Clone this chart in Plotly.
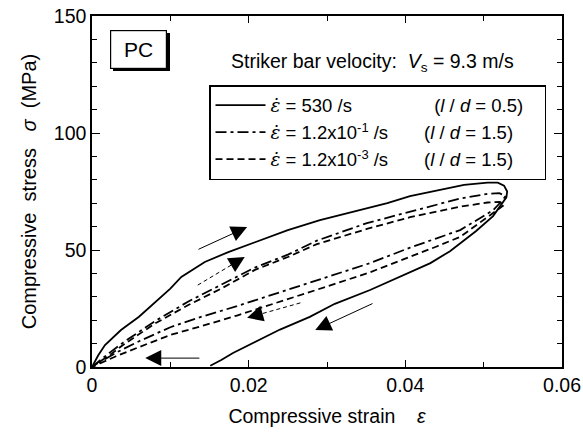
import plotly.graph_objects as go

# ---------------- data ----------------
# 530 /s (l/d = 0.5) : loading then unloading
strain_530 = [0, 0.0008, 0.00166, 0.0037, 0.006, 0.008, 0.010, 0.0114, 0.0144, 0.0174,
              0.0206, 0.025, 0.0291, 0.0335, 0.0377, 0.0406, 0.044, 0.0475, 0.0505,
              0.0518, 0.0526, 0.0530, 0.0529, 0.0524, 0.0512, 0.049, 0.0457, 0.0432,
              0.040, 0.0355, 0.031, 0.0278, 0.024, 0.0206, 0.018, 0.0165, 0.0151]
stress_530 = [0, 5, 9.4, 15.8, 21.5, 27.4, 33.5, 38.5, 44.9, 49.1,
              53, 58.5, 62.8, 66.5, 70, 73, 75.5, 77.8, 78.8,
              78.8, 77.5, 75, 72.5, 70, 64.5, 58, 49.5, 44.4,
              39.5, 32.9, 27, 21.4, 16, 10.3, 6, 3, 0.5]

# 1.2x10^-1 /s (l/d = 1.5)
strain_1e1 = [0, 0.002, 0.004, 0.008, 0.0123, 0.0165, 0.0208, 0.025, 0.0287, 0.0351,
              0.0406, 0.047, 0.0505, 0.052, 0.0528, 0.0522, 0.0512, 0.047, 0.044,
              0.0406, 0.0355, 0.031, 0.0269, 0.0227, 0.0185, 0.014, 0.010, 0.006, 0.003, 0]
stress_1e1 = [0, 5.5, 10.5, 19.5, 28, 35, 42.5, 48, 54, 61.5,
              66.5, 72, 74, 74.3, 73, 70.5, 67, 58.5, 55,
              51, 44.4, 39.5, 35, 30.5, 26, 21.5, 17, 11, 6, 0]

# 1.2x10^-3 /s (l/d = 1.5)
strain_1e3 = [0, 0.002, 0.004, 0.008, 0.0123, 0.0165, 0.0208, 0.025, 0.0287, 0.0351,
              0.0406, 0.047, 0.0505, 0.052, 0.0526, 0.0525, 0.0512, 0.047, 0.044,
              0.0406, 0.0355, 0.031, 0.0269, 0.0227, 0.0185, 0.014, 0.010, 0.006, 0.003, 0]
stress_1e3 = [0, 4.5, 9.5, 18.5, 26.5, 33.5, 41.5, 47, 52.5, 59,
              64, 68.5, 70.3, 70.5, 69.5, 69, 65.8, 55.6, 51.5,
              47, 40.5, 35.5, 31, 26.5, 22, 17.5, 13.7, 8.5, 4.5, 0]

# direction arrows: tail -> head (strain, stress)
arrow_tail_x = [0.0134, 0.0135, 0.0266, 0.0360, 0.0139]
arrow_tail_y = [50.0, 35.0, 27.4, 27.4, 3.8]
arrow_head_x = [0.0198, 0.0195, 0.0198, 0.0285, 0.0068]
arrow_head_y = [59.8, 47.0, 21.0, 15.8, 3.8]
arrow_dashed = [False, True, True, False, False]

EPS = '<span style="font-family:DejaVu Serif"><i>ε\u0307</i></span>'
legend_names = [
    EPS + " = 530 /s" + "\u00a0" * 16 + "(<i>l</i> / <i>d</i> = 0.5)" + "\u00a0" * 3,
    EPS + " = 1.2x10<sup>-1</sup> /s" + "\u00a0" * 7 + "(<i>l</i> / <i>d</i> = 1.5)" + "\u00a0" * 3,
    EPS + " = 1.2x10<sup>-3</sup> /s" + "\u00a0" * 7 + "(<i>l</i> / <i>d</i> = 1.5)" + "\u00a0" * 3,
]

# ---------------- figure ----------------
W, H = 583, 432
L, R, T, B = 92, 21, 16, 65
PW, PH = W - L - R, H - T - B


def px(xp):
    return (xp - L) / PW


def py(yp):
    return (H - B - yp) / PH


FONT = "Liberation Sans, Arial, Helvetica, sans-serif"
fig = go.Figure()

fig.add_trace(go.Scatter(x=strain_530, y=stress_530, mode="lines", name=legend_names[0],
                         line=dict(color="black", width=1.8)))
fig.add_trace(go.Scatter(x=strain_1e1, y=stress_1e1, mode="lines", name=legend_names[1],
                         line=dict(color="black", width=1.8, dash="11px,4px,3px,4px")))
fig.add_trace(go.Scatter(x=strain_1e3, y=stress_1e3, mode="lines", name=legend_names[2],
                         line=dict(color="black", width=1.8, dash="7px,4px")))

annotations = []
for tx, ty, hx, hy, dsh in zip(arrow_tail_x, arrow_tail_y, arrow_head_x, arrow_head_y, arrow_dashed):
    if dsh:
        fig.add_trace(go.Scatter(x=[tx, hx], y=[ty, hy], mode="lines", showlegend=False,
                                 hoverinfo="skip",
                                 line=dict(color="black", width=1, dash="4px,3px")))
        sx, sy = hx - 0.3 * (hx - tx), hy - 0.3 * (hy - ty)
    else:
        sx, sy = tx, ty
    annotations.append(dict(x=hx, y=hy, ax=sx, ay=sy, xref="x", yref="y", axref="x", ayref="y",
                            text="", showarrow=True, arrowhead=2, arrowsize=3.2, arrowwidth=1,
                            arrowcolor="black"))

annotations.append(dict(x=px(138.5), y=py(49), xref="paper", yref="paper", text="PC",
                        showarrow=False, font=dict(family=FONT, size=21, color="black"),
                        bgcolor="white", bordercolor="black", borderwidth=1.2,
                        width=53, height=35, xanchor="center", yanchor="middle"))
annotations.append(dict(x=px(372), y=py(62), xref="paper", yref="paper",
                        text="Striker bar velocity:\u00a0 <i>V</i><sub>s</sub> = 9.3 m/s",
                        showarrow=False, font=dict(family=FONT, size=19.5, color="black"),
                        xanchor="center", yanchor="middle"))

shapes = [dict(type="rect", xref="paper", yref="paper", x0=px(113), x1=px(170),
               y0=py(71), y1=py(33), fillcolor="black", line=dict(width=0), layer="above")]

fig.update_layout(
    width=W, height=H, margin=dict(l=L, r=R, t=T, b=B, autoexpand=False),
    paper_bgcolor="white", plot_bgcolor="white",
    font=dict(family=FONT, size=19, color="black"),
    showlegend=True,
    legend=dict(x=px(209), y=py(85), xanchor="left", yanchor="top",
                bordercolor="black", borderwidth=1.5, bgcolor="white",
                font=dict(family=FONT, size=18.5, color="black"),
                tracegroupgap=0, itemwidth=50),
    annotations=annotations, shapes=shapes,
    xaxis=dict(range=[0, 0.06], dtick=0.02, tick0=0, ticks="inside", ticklen=7,
               tickwidth=1, tickcolor="black", showline=True, linecolor="black",
               linewidth=1.5, mirror="ticks", showgrid=False, zeroline=False, automargin=False,
               minor=dict(dtick=0.01, ticks="inside", ticklen=5, tickcolor="black", showgrid=False),
               title=dict(text="Compressive strain\u00a0\u00a0\u00a0\u00a0<i>ε</i>", font=dict(size=19.5),
                          standoff=14),
               tickfont=dict(size=19.5)),
    yaxis=dict(range=[0, 150], dtick=50, tick0=0, ticks="inside", ticklen=8,
               tickwidth=1, tickcolor="black", showline=True, linecolor="black",
               linewidth=1.5, mirror="ticks", showgrid=False, zeroline=False, automargin=False,
               minor=dict(dtick=10, ticks="inside", ticklen=5, tickcolor="black", showgrid=False),
               title=dict(text="Compressive\u00a0\u00a0stress\u00a0\u00a0\u00a0<i>σ</i>\u00a0\u00a0(MPa)",
                          font=dict(size=20), standoff=12),
               tickfont=dict(size=19.5)),
)

fig.write_html("out.html")
